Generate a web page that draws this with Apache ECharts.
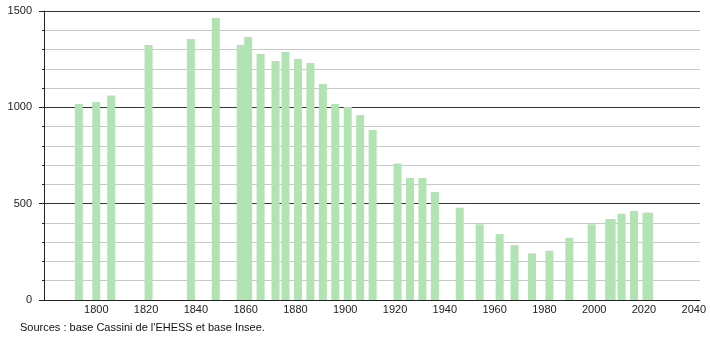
<!DOCTYPE html>
<html>
<head>
<meta charset="utf-8">
<script src="https://cdn.jsdelivr.net/npm/echarts@6/dist/echarts.min.js"></script>
<style>
html,body{margin:0;padding:0;background:#fff;}
#chart{width:710px;height:340px;}
</style>
</head>
<body>
<div id="chart"></div>
<script>
const years = [1793,1800,1806,1821,1838,1848,1858,1861,1866,1872,1876,1881,1886,1891,1896,1901,1906,1911,1921,1926,1931,1936,1946,1954,1962,1968,1975,1982,1990,1999,2006,2007,2011,2016,2021,2022];
const population = [1017,1028,1062,1323,1355,1464,1323,1365,1277,1240,1287,1251,1230,1121,1017,1002,960,882,709,633,633,560,479,393,342,285,242,256,323,393,420,420,448,462,453,453];
const xTickLabels = [1800,1820,1840,1860,1880,1900,1920,1940,1960,1980,2000,2020,2040];
const yTickLabels = [0,500,1000,1500];
const sourceText = "Sources : base Cassini de l'EHESS et base Insee.";

const chart = echarts.init(document.getElementById('chart'), null, {renderer:'canvas'});
const font = 'Liberation Sans, Arial, sans-serif';
chart.setOption({
  animation:false,
  backgroundColor:'#fff',
  grid:{left:44, right:10, top:11, bottom:40},
  graphic:[{type:'text', left:20, top:322, style:{text:sourceText, font:'11px ' + font, fill:'#111'}}],
  xAxis:{
    type:'value', min:1779, max:2042.5,
    axisLine:{show:true, lineStyle:{color:'#222', width:1}},
    axisTick:{show:false},
    splitLine:{show:false},
    axisLabel:{customValues:xTickLabels, formatter:v=>String(v), color:'#222', fontSize:11, fontFamily:font, margin:4, showMinLabel:true, showMaxLabel:true}
  },
  yAxis:[{
    type:'value', min:0, max:1500, interval:100,
    axisLine:{show:true, lineStyle:{color:'#222'}},
    axisTick:{show:true, length:2, lineStyle:{color:'#222'}},
    axisLabel:{show:false},
    splitLine:{show:true, lineStyle:{color:['#333','#c8c8c8','#c8c8c8','#c8c8c8','#c8c8c8'], width:1}}
  },{
    type:'value', min:0, max:1500, interval:500, position:'left',
    axisLine:{show:false},
    axisTick:{show:true, length:5, lineStyle:{color:'#222'}},
    axisLabel:{customValues:yTickLabels, formatter:v=>String(v), color:'#222', fontSize:11, fontFamily:font, margin:12},
    splitLine:{show:false}
  }],
  series:[{
    type:'bar', yAxisIndex:0, barWidth:8,
    itemStyle:{color:'#b2e3b2'},
    data: years.map((y,i)=>[y, population[i]])
  }]
});
</script>
</body>
</html>
